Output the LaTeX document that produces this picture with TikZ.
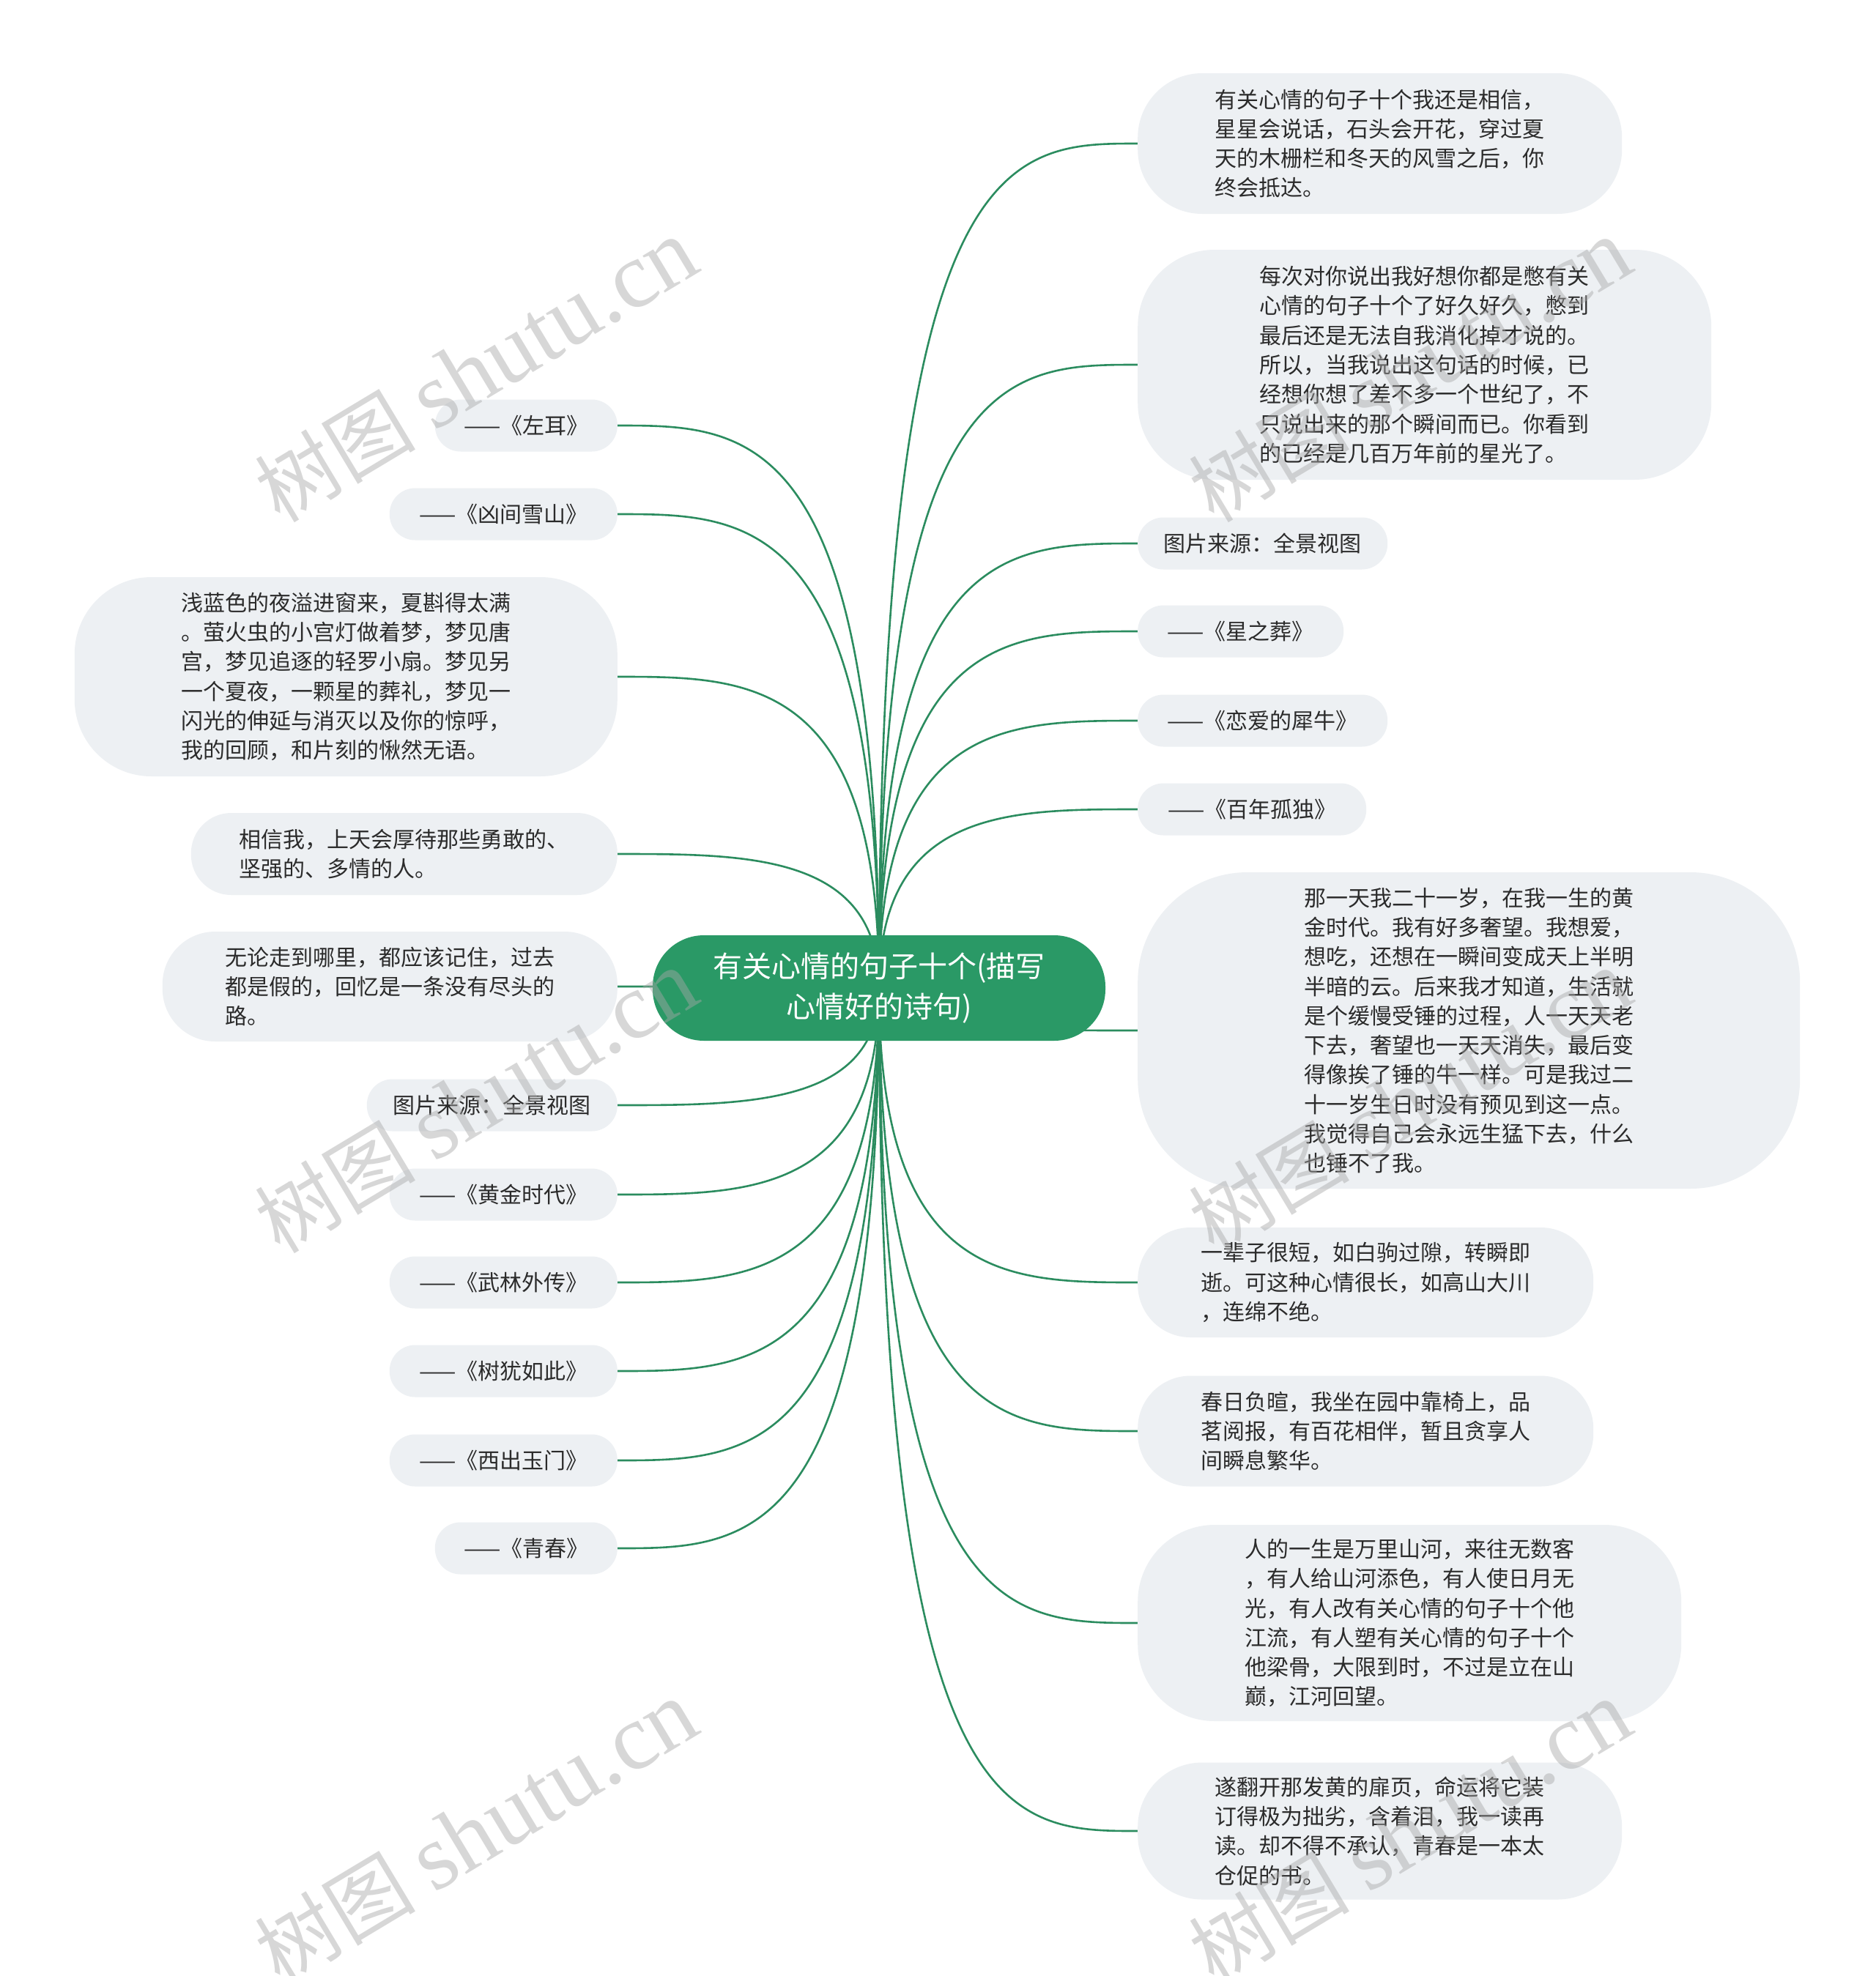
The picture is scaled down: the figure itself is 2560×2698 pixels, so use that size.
\documentclass[tikz,border=0pt]{standalone}
\usepackage{fontspec}
\setmainfont{Noto Sans CJK SC}
\newfontfamily\markfont{Liberation Serif}
\usetikzlibrary{calc,backgrounds}
\definecolor{bubble}{HTML}{EDF0F3}
\definecolor{ink}{HTML}{2B2B2B}
\definecolor{rootgreen}{HTML}{2A9966}
\definecolor{branchgreen}{HTML}{2B8C5F}
\definecolor{markgray}{HTML}{A8A8A8}
\newcommand{\leaffont}{\fontsize{30}{40.3}\selectfont}
\newcommand{\rootfont}{\fontsize{40}{55}\selectfont}
\newcommand{\marktext}{树图 {\markfont\fontsize{128}{128}\selectfont shutu.cn}}
\tikzset{
  every node/.style={text=ink},
  rootbox/.style={fill=rootgreen,rounded corners=70pt,minimum width=618pt,minimum height=144pt,align=center,font=\rootfont,text=white,inner sep=0pt},
  pill/.style={fill=bubble,rounded corners=35pt,minimum height=71pt,align=left,font=\leaffont,inner sep=0pt},
  card/.style={pill,rounded corners=72pt},
  block/.style={pill,rounded corners=105pt},
  branch/.style={draw=branchgreen,line width=2.6pt},
  wmark/.style={text=markgray,opacity=.45,rotate=31,inner sep=0pt,font=\fontsize{110}{110}\selectfont},
}

\begin{document}
\begin{tikzpicture}[x=1pt,y=-1pt]
\useasboundingbox (0,0) rectangle (2560,2698);

% centre topic
\node[rootbox] (root) at (1200,1349) {有关心情的句子十个(描写\\心情好的诗句)};

% right branches
\node[card,anchor=west,minimum width=661pt,minimum height=192pt,rounded corners=88pt] (r1) at (1553,196)
{有关心情的句子十个我还是相信，\\星星会说话，石头会开花，穿过夏\\天的木栅栏和冬天的风雪之后，你\\终会抵达。};
\node[block,anchor=west,minimum width=783pt,minimum height=314pt] (r2) at (1553,498)
{每次对你说出我好想你都是憋有关\\心情的句子十个了好久好久，憋到\\最后还是无法自我消化掉才说的。\\所以，当我说出这句话的时候，已\\经想你想了差不多一个世纪了，不\\只说出来的那个瞬间而已。你看到\\的已经是几百万年前的星光了。};
\node[pill,anchor=west,minimum width=341pt] (r3) at (1553,742) {图片来源：全景视图};
\node[pill,anchor=west,minimum width=281pt] (r4) at (1553,862) {——《星之葬》};
\node[pill,anchor=west,minimum width=341pt] (r5) at (1553,984) {——《恋爱的犀牛》};
\node[pill,anchor=west,minimum width=312pt] (r6) at (1553,1105) {——《百年孤独》};
\node[block,anchor=west,minimum width=904pt,minimum height=432pt,rounded corners=150pt] (r7) at (1553,1407)
{那一天我二十一岁，在我一生的黄\\金时代。我有好多奢望。我想爱，\\想吃，还想在一瞬间变成天上半明\\半暗的云。后来我才知道，生活就\\是个缓慢受锤的过程，人一天天老\\下去，奢望也一天天消失，最后变\\得像挨了锤的牛一样。可是我过二\\十一岁生日时没有预见到这一点。\\我觉得自己会永远生猛下去，什么\\也锤不了我。};
\node[card,anchor=west,minimum width=622pt,minimum height=150pt] (r8) at (1553,1751)
{一辈子很短，如白驹过隙，转瞬即\\逝。可这种心情很长，如高山大川\\，连绵不绝。};
\node[card,anchor=west,minimum width=622pt,minimum height=151pt] (r9) at (1553,1954)
{春日负暄，我坐在园中靠椅上，品\\茗阅报，有百花相伴，暂且贪享人\\间瞬息繁华。};
\node[block,anchor=west,minimum width=742pt,minimum height=268pt] (r10) at (1553,2216)
{人的一生是万里山河，来往无数客\\，有人给山河添色，有人使日月无\\光，有人改有关心情的句子十个他\\江流，有人塑有关心情的句子十个\\他梁骨，大限到时，不过是立在山\\巅，江河回望。};
\node[card,anchor=west,minimum width=661pt,minimum height=187pt,rounded corners=88pt] (r11) at (1553,2500)
{遂翻开那发黄的扉页，命运将它装\\订得极为拙劣，含着泪，我一读再\\读。却不得不承认，青春是一本太\\仓促的书。};

% left branches
\node[pill,anchor=east,minimum width=249pt] (l1) at (843,581) {——《左耳》};
\node[pill,anchor=east,minimum width=311pt] (l2) at (843,702) {——《凶间雪山》};
\node[block,anchor=east,minimum width=741pt,minimum height=272pt] (l3) at (843,924)
{浅蓝色的夜溢进窗来，夏斟得太满\\。萤火虫的小宫灯做着梦，梦见唐\\宫，梦见追逐的轻罗小扇。梦见另\\一个夏夜，一颗星的葬礼，梦见一\\闪光的伸延与消灭以及你的惊呼，\\我的回顾，和片刻的愀然无语。};
\node[card,anchor=east,minimum width=582pt,minimum height=112pt,rounded corners=55pt] (l4) at (843,1166)
{相信我，上天会厚待那些勇敢的、\\坚强的、多情的人。};
\node[card,anchor=east,minimum width=621pt,minimum height=150pt] (l5) at (843,1347)
{无论走到哪里，都应该记住，过去\\都是假的，回忆是一条没有尽头的\\路。};
\node[pill,anchor=east,minimum width=342pt] (l6) at (843,1509) {图片来源：全景视图};
\node[pill,anchor=east,minimum width=311pt] (l7) at (843,1631) {——《黄金时代》};
\node[pill,anchor=east,minimum width=311pt] (l8) at (843,1751) {——《武林外传》};
\node[pill,anchor=east,minimum width=311pt] (l9) at (843,1872) {——《树犹如此》};
\node[pill,anchor=east,minimum width=311pt] (l10) at (843,1994) {——《西出玉门》};
\node[pill,anchor=east,minimum width=249pt] (l11) at (843,2114) {——《青春》};

% branches behind the nodes
\begin{scope}[on background layer]
\fill[white] (0,0) rectangle (2560,2698);
\foreach \n in {r1,r2,r3,r4,r5,r6,r7,r8,r9,r10,r11}
  \draw[branch] (root.center) .. controls (root.center |- \n.west) and ($(root.center |- \n.west)!.5!(\n.west)$) .. (\n.west);
\foreach \n in {l1,l2,l3,l4,l5,l6,l7,l8,l9,l10,l11}
  \draw[branch] (root.center) .. controls (root.center |- \n.east) and ($(root.center |- \n.east)!.5!(\n.east)$) .. (\n.east);
\end{scope}

% watermarks
\node[wmark] (mark1) at (650,506) {\marktext};
\node[wmark] (mark2) at (650,1504) {\marktext};
\node[wmark] (mark3) at (650,2502) {\marktext};
\node[wmark] (mark4) at (1925,506) {\marktext};
\node[wmark] (mark5) at (1925,1504) {\marktext};
\node[wmark] (mark6) at (1925,2502) {\marktext};

\end{tikzpicture}
\end{document}
